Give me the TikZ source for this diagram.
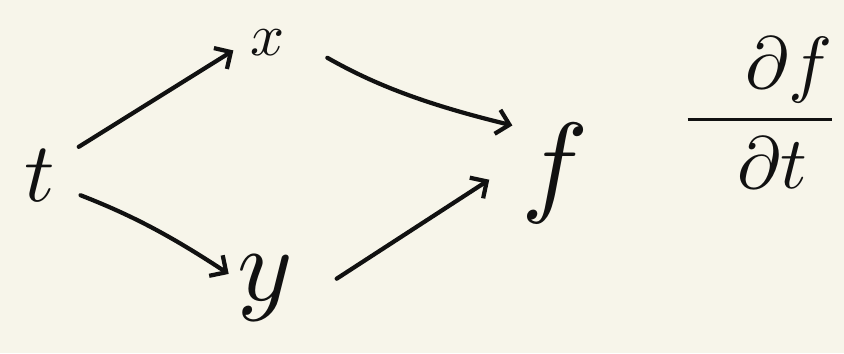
\documentclass[tikz,border=0pt]{standalone}
\usepackage{amsmath}
\usepackage{graphicx}
\usetikzlibrary{arrows.meta, positioning}
\definecolor{paper}{HTML}{F7F5EA}
\definecolor{ink}{HTML}{111111}
\newcommand{\hand}[2]{\scalebox{#1}{$#2$}}
\tikzset{
  var/.style={text=ink, inner sep=3pt},
  arrow/.style={-{Straight Barb[length=7pt,width=14pt]}, line width=2.4pt, color=ink, line cap=round},
}

\begin{document}
\begin{tikzpicture}

  % Paper
  \fill[paper] (0,0) rectangle (16.88,7.06);
  \useasboundingbox (0,0) rectangle (16.88,7.06);

  % Variables
  \node[var] (t) at (0.8,3.55) {\hand{4.8}{t}};
  \node[var] (x) at (5.36,6.2) {\hand{3.4}{x}};
  \node[var] (y) at (5.3,1.3) {\hand{6}{y}};
  \node[var] (f) at (11.1,3.6) {\hand{6.4}{f}};

  % Derivative
  \node[var] (dfdt) at (15.2,4.8) {\hand{4.2}{\dfrac{\mkern14mu\partial f\rule[-2pt]{0pt}{2pt}}{\mkern6mu\partial t}}};

  % Arrows
  \draw[arrow, shorten <=12pt, shorten >=8pt] (t.40) -- (x.180);
  \draw[arrow, shorten <=24pt, shorten >=2pt] (x.15) to[bend right=8] (f.130);
  \draw[arrow, shorten <=12pt, shorten >=2pt] (t.-30) to[bend left=6] (y.160);
  \draw[arrow, shorten <=26pt, shorten >=18pt] (y.-25) -- (f.165);

\end{tikzpicture}
\end{document}
